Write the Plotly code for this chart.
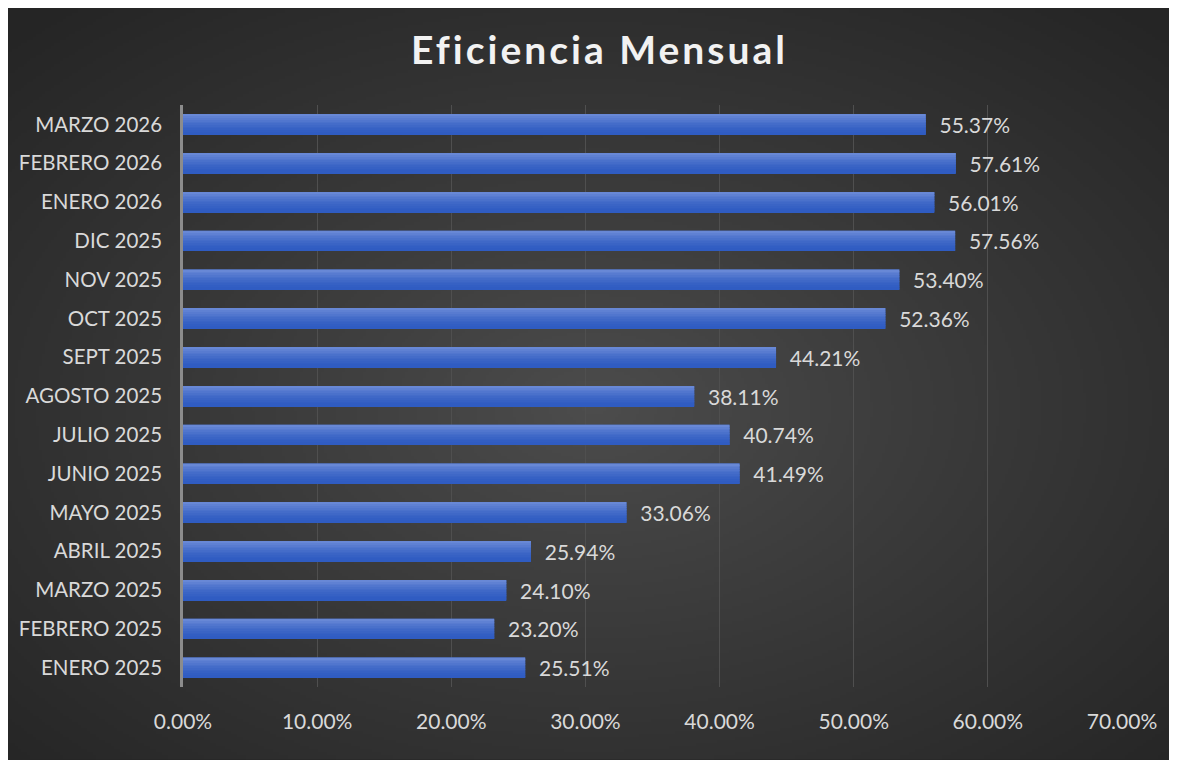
import base64
import struct
import zlib

import numpy as np
import plotly.graph_objects as go

# Monthly efficiency, bottom to top as drawn
meses = [
    "ENERO 2025", "FEBRERO 2025", "MARZO 2025", "ABRIL 2025", "MAYO 2025",
    "JUNIO 2025", "JULIO 2025", "AGOSTO 2025", "SEPT 2025", "OCT 2025",
    "NOV 2025", "DIC 2025", "ENERO 2026", "FEBRERO 2026", "MARZO 2026",
]
eficiencia = [
    0.2551, 0.2320, 0.2410, 0.2594, 0.3306,
    0.4149, 0.4074, 0.3811, 0.4421, 0.5236,
    0.5340, 0.5756, 0.5601, 0.5761, 0.5537,
]
x_ticks = [0, 0.1, 0.2, 0.3, 0.4, 0.5, 0.6, 0.7]

FONT = "Lato"
TEXT_COLOR = "#d9d9d9"

# the page adds an 8px body margin, so the figure is a bit smaller than the window
W, H = 1169, 752


# ================================================================
# Background: dark radial gradient as a small inline PNG
# ================================================================
def radial_png(w, h, inner, outer):
    yy, xx = np.mgrid[0:h, 0:w]
    dx = (xx - w * 0.5) / (w * 0.5)
    dy = (yy - h * 0.53) / (h * 0.5)
    d = np.clip(np.sqrt(dx ** 2 + dy ** 2) / 1.42, 0, 1) ** 0.9
    inner = np.array(inner, dtype=float)
    outer = np.array(outer, dtype=float)
    arr = (inner + (outer - inner) * d[..., None]).astype(np.uint8)

    raw = b"".join(b"\x00" + arr[r].tobytes() for r in range(h))

    def chunk(tag, data):
        out = struct.pack(">I", len(data)) + tag + data
        return out + struct.pack(">I", zlib.crc32(tag + data) & 0xFFFFFFFF)

    png = (b"\x89PNG\r\n\x1a\n"
           + chunk(b"IHDR", struct.pack(">IIBBBBB", w, h, 8, 2, 0, 0, 0))
           + chunk(b"IDAT", zlib.compress(raw, 9))
           + chunk(b"IEND", b""))
    return "data:image/png;base64," + base64.b64encode(png).decode()


bg = radial_png(390, 251, (77, 77, 77), (37, 37, 37))

# ================================================================
# Bars: overlaid strips give the vertical shading of each bar
# ================================================================
fig = go.Figure()

BAR_W = 0.52
fig.add_trace(go.Bar(
    x=eficiencia, y=meses, orientation="h",
    width=BAR_W, marker=dict(color="#3b66c8", line=dict(width=0)),
    texttemplate="\u00a0\u00a0%{x:.2%}", textposition="outside",
    constraintext="none",
    textfont=dict(family=FONT, size=21, color=TEXT_COLOR),
    cliponaxis=False, hoverinfo="skip",
))

n_strips = 12
bottom_rgb = np.array([47, 92, 194])
top_rgb = np.array([104, 136, 214])
strip_w = BAR_W / n_strips
for i in range(n_strips):
    t = (i / (n_strips - 1)) ** 1.6
    c = (bottom_rgb + (top_rgb - bottom_rgb) * t).astype(int)
    fig.add_trace(go.Bar(
        x=eficiencia, y=meses, orientation="h",
        width=strip_w, offset=-BAR_W / 2 + i * strip_w,
        marker=dict(color=f"rgb({c[0]},{c[1]},{c[2]})", line=dict(width=0)),
        hoverinfo="skip",
    ))

# plot area in figure pixels: x 175..1114, y 96.6..679.4
fig.add_layout_image(
    source=bg, xref="paper", yref="paper",
    x=-0.1864, y=1.1658, sizex=1.2449, sizey=1.2903,
    xanchor="left", yanchor="top", sizing="stretch", layer="below",
)

fig.update_layout(
    width=W, height=H,
    margin=dict(l=175, r=55, t=97, b=73),
    paper_bgcolor="#262626",
    plot_bgcolor="rgba(0,0,0,0)",
    barmode="overlay",
    showlegend=False,
    title=dict(
        text='<b><span style="letter-spacing:3px">Eficiencia Mensual</span></b>',
        x=0.506, xref="container", y=1 - 42 / H, yref="container",
        xanchor="center", yanchor="middle",
        font=dict(family=FONT, size=39, color="#f2f2f2"),
    ),
    font=dict(family=FONT, size=20, color=TEXT_COLOR),
)
fig.update_xaxes(
    range=[0, 0.7], tickvals=x_ticks, tickformat=".2%",
    showgrid=True, gridcolor="#4f4f4f", gridwidth=1,
    zeroline=False, showline=False, ticks="",
    ticklabelstandoff=20,
    tickfont=dict(family=FONT, size=21, color=TEXT_COLOR),
)
fig.update_yaxes(
    categoryorder="array", categoryarray=meses,
    showgrid=False, showline=True, linecolor="#8c8c8c", linewidth=2.5,
    ticks="", ticklabelstandoff=14,
    tickfont=dict(family=FONT, size=20.5, color=TEXT_COLOR),
)

fig.write_html("out.html")
